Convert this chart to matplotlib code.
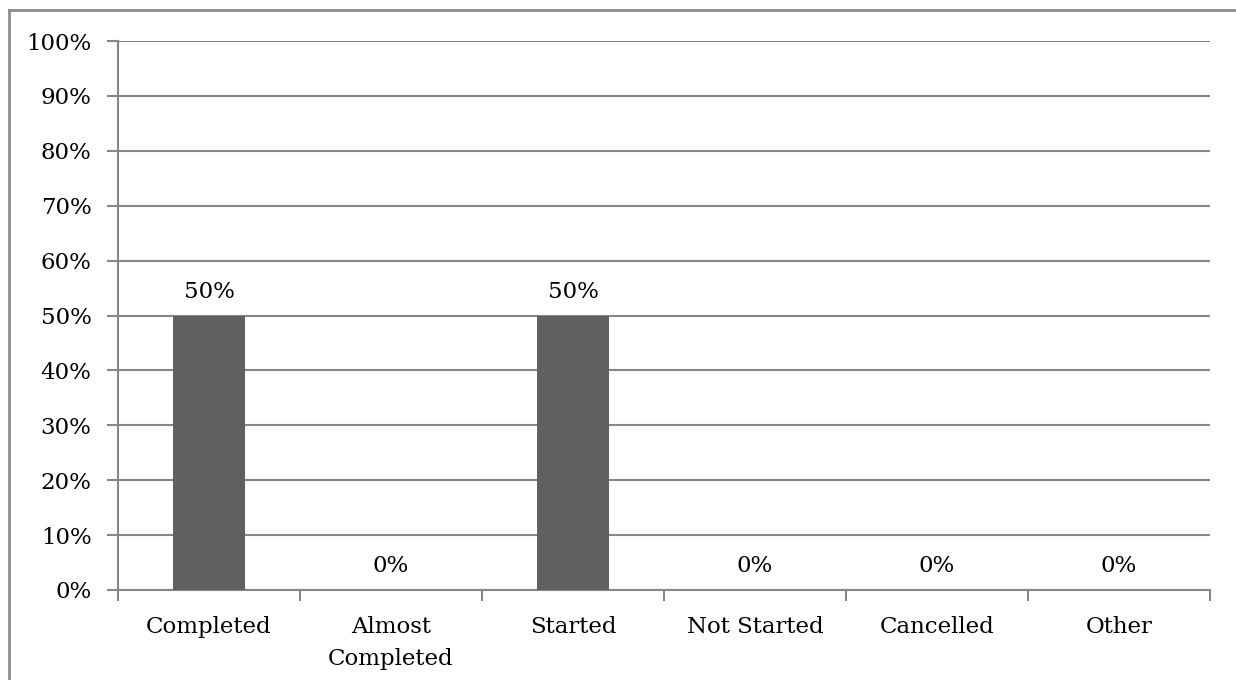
import matplotlib
matplotlib.use("Agg")
import matplotlib.pyplot as plt
from matplotlib.lines import Line2D
from matplotlib.ticker import FixedLocator, PercentFormatter

categories = ["Completed", "Almost\nCompleted", "Started", "Not Started", "Cancelled", "Other"]
shares = [50, 0, 50, 0, 0, 0]
y_ticks = list(range(0, 101, 10))

W, H, DPI = 1236, 680, 100
fig = plt.figure(figsize=(W / DPI, H / DPI), dpi=DPI)
plt.rcParams["font.family"] = ["DejaVu Serif"]

grid_c = "#878787"
bar_c = "#606060"
fs = 16.5

# axes box in pixels: left 118, right 1210, top 41, bottom 590
ax = fig.add_axes([118 / W, 1 - 590 / H, (1210 - 118) / W, (590 - 41) / H])

x = list(range(len(categories)))
bars = ax.bar(x, shares, width=0.4, color=bar_c, zorder=3)
for xi, v in zip(x, shares):
    ax.annotate(f"{v}%", (xi, v), xytext=(0, 9), textcoords="offset points",
                ha="center", va="bottom", fontsize=fs, color="black")

ax.set_xlim(-0.5, len(categories) - 0.5)
ax.set_ylim(0, 100)
ax.set_yticks(y_ticks)
ax.yaxis.set_major_formatter(PercentFormatter(decimals=0))
ax.set_xticks(x)
ax.set_xticklabels(categories, fontsize=fs, linespacing=1.55)
ax.xaxis.set_minor_locator(FixedLocator([i - 0.5 for i in range(len(categories) + 1)]))

ax.tick_params(axis="x", which="major", length=0, pad=19)
ax.tick_params(axis="x", which="minor", length=8, width=1.5, color=grid_c, direction="out")
ax.tick_params(axis="y", which="major", length=8, width=1.5, color=grid_c,
               direction="out", labelsize=fs, pad=11)

ax.grid(axis="y", color=grid_c, linewidth=1.5, zorder=0)
for s in ["top", "right"]:
    ax.spines[s].set_visible(False)
for s in ["left", "bottom"]:
    ax.spines[s].set_color(grid_c)
    ax.spines[s].set_linewidth(1.5)

# frame lines along the top and left edges of the figure
fig.add_artist(Line2D([9 / W, 1.0], [1 - 10 / H, 1 - 10 / H], color="#8c8c8c",
                      linewidth=2.0, transform=fig.transFigure))
fig.add_artist(Line2D([9 / W, 9 / W], [0.0, 1 - 10 / H], color="#8c8c8c",
                      linewidth=2.0, transform=fig.transFigure))

fig.savefig("out.png", dpi=DPI, facecolor="white")
